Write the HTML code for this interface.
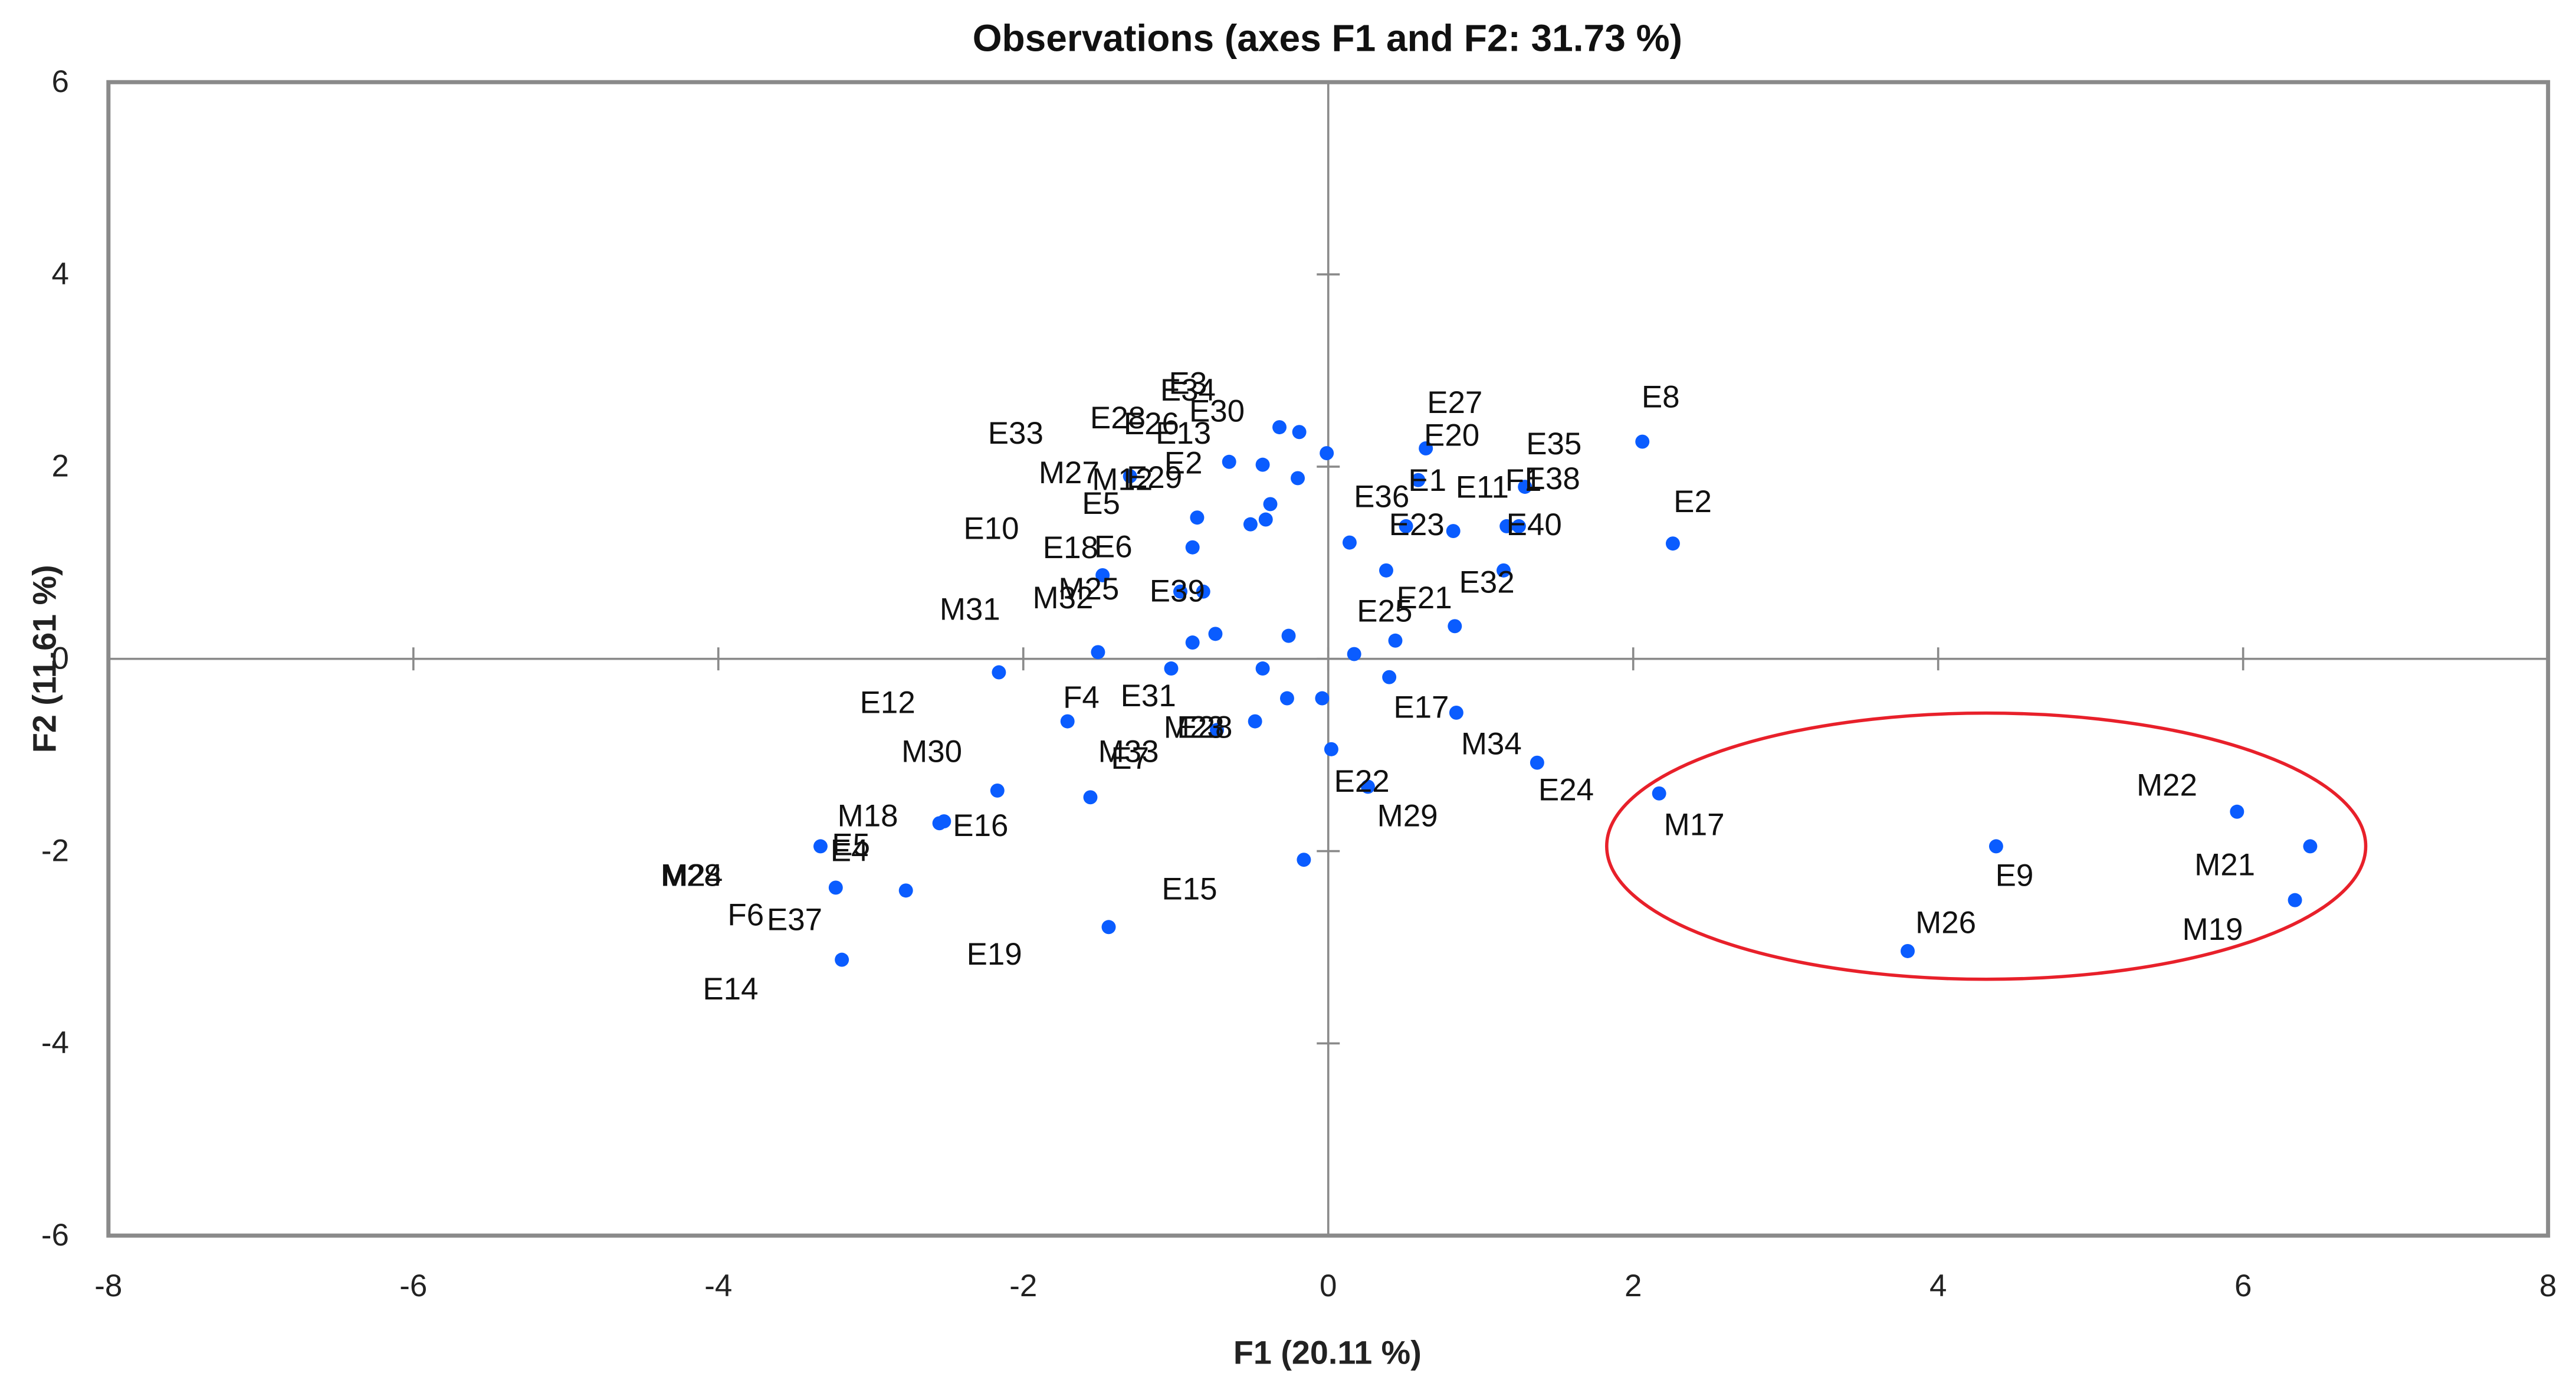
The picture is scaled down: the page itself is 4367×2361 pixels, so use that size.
<!DOCTYPE html>
<html><head><meta charset="utf-8"><style>
html,body{margin:0;padding:0;background:#fff;}
svg{display:block;font-family:"Liberation Sans",sans-serif;}
</style></head><body>
<svg id="chart" width="4367" height="2361" viewBox="0 0 1568 847.8" preserveAspectRatio="none" xmlns="http://www.w3.org/2000/svg">
<rect x="0" y="0" width="1568" height="848" fill="#fff"/>
<text x="808" y="31" text-anchor="middle" font-size="23" font-weight="bold" fill="#111">Observations (axes F1 and F2: 31.73 %)</text>
<rect x="66" y="50" width="1485" height="702" fill="none" stroke="#8a8a8a" stroke-width="2.5"/>
<g id="axes"></g>
<g id="points"></g>
<g id="labels"></g>
<ellipse cx="1209" cy="515" rx="231" ry="81" fill="none" stroke="#e8202a" stroke-width="2"/>
<text x="808" y="830" text-anchor="middle" font-size="20" font-weight="bold" fill="#222">F1 (20.11 %)</text>
<text transform="translate(34,401) rotate(-90)" text-anchor="middle" font-size="20" font-weight="bold" fill="#222">F2 (11.61 %)</text>
</svg>
<script>
const xTicks=[-8,-6,-4,-2,0,2,4,6,8];
const yTicks=[-6,-4,-2,0,2,4,6];
const xVals=[-0.32,-0.19,-0.01,-0.65,-0.43,-0.20,0.64,2.06,2.26,0.59,1.29,-0.38,-0.86,-0.41,-0.51,0.14,0.51,0.82,1.17,1.25,-0.89,-1.48,0.38,1.15,-0.97,-0.82,0.83,0.44,-0.74,-0.89,-0.26,-1.51,0.17,-2.16,-1.03,-0.43,0.40,-0.27,-0.04,0.84,-1.71,-0.48,-0.73,0.02,1.37,0.26,-2.17,-1.56,2.17,-2.52,-2.55,-3.33,-0.16,-3.23,-2.77,-1.44,-3.19,4.38,5.96,6.44,6.34,3.80,-1.30];
const yVals=[2.41,2.36,2.14,2.05,2.02,1.88,2.19,2.26,1.20,1.86,1.79,1.61,1.47,1.45,1.40,1.21,1.38,1.33,1.38,1.38,1.16,0.87,0.92,0.92,0.70,0.70,0.34,0.19,0.26,0.17,0.24,0.07,0.05,-0.14,-0.10,-0.10,-0.19,-0.41,-0.41,-0.56,-0.65,-0.65,-0.74,-0.94,-1.08,-1.33,-1.37,-1.44,-1.40,-1.69,-1.71,-1.95,-2.09,-2.38,-2.41,-2.79,-3.13,-1.95,-1.59,-1.95,-2.51,-3.04,1.90];
const labelText=["E3","E34","E30","E28","E26","E13","E33","E27","E8","E20","E35","E2","M27","M12","E29","E36","E1","E11","F1","E38","E2","E5","E10","E23","E40","E18","E6","E32","M25","M32","E39","E21","M31","E25","E12","F4","E31","E17","M23","E28","M30","M33","E7","M34","E22","E24","M17","M29","M18","E16","E5","E4","M22","M28","M24","E9","M21","E15","F6","E37","M26","M19","E19","E14"];
const labelX=[-0.92,-0.92,-0.73,-1.38,-1.16,-0.95,-2.05,0.83,2.18,0.81,1.48,-0.95,-1.70,-1.35,-1.14,0.35,0.65,1.01,1.28,1.47,2.39,-1.49,-2.21,0.58,1.35,-1.69,-1.41,1.04,-1.57,-1.74,-0.99,0.63,-2.35,0.37,-2.89,-1.62,-1.18,0.61,-0.88,-0.81,-2.60,-1.31,-1.30,1.07,0.22,1.56,2.40,0.52,-3.02,-2.28,-3.13,-3.14,5.50,-4.18,-4.17,4.50,5.88,-0.91,-3.82,-3.50,4.05,5.80,-2.19,-3.92];
const labelY=[2.86,2.79,2.57,2.50,2.44,2.34,2.34,2.66,2.72,2.32,2.23,2.03,1.93,1.86,1.88,1.68,1.85,1.78,1.85,1.87,1.63,1.61,1.35,1.39,1.39,1.15,1.16,0.79,0.72,0.63,0.70,0.63,0.51,0.49,-0.46,-0.41,-0.39,-0.51,-0.72,-0.72,-0.97,-0.97,-1.04,-0.89,-1.28,-1.37,-1.73,-1.64,-1.64,-1.74,-1.94,-2.00,-1.32,-2.26,-2.26,-2.26,-2.15,-2.40,-2.67,-2.72,-2.75,-2.82,-3.08,-3.44];

const NS='http://www.w3.org/2000/svg';
const X0=66,X1=1551,Y0=752,Y1=50;
function sx(v){return X0+(v-(-8))/(16)*(X1-X0);}
function sy(v){return Y0-(v-(-6))/(12)*(Y0-Y1);}
function mk(tag,attrs,parent){const e=document.createElementNS(NS,tag);for(const k in attrs)e.setAttribute(k,attrs[k]);parent.appendChild(e);return e;}
const axes=document.getElementById('axes');
let l=mk('line',{x1:X0,x2:X1,y1:sy(0),y2:sy(0),stroke:'#8a8a8a','stroke-width':1.3},axes);


l=mk('line',{x1:sx(0),x2:sx(0),y1:Y1,y2:Y0,stroke:'#8a8a8a','stroke-width':1.3},axes);


xTicks.forEach(v=>{
  const t=mk('line',{x1:sx(v),x2:sx(v),y1:sy(0)-7,y2:sy(0)+7,stroke:'#8a8a8a','stroke-width':1.3},axes);
  
  
  const tx=mk('text',{x:sx(v),y:789,'text-anchor':'middle','font-size':19,fill:'#222'},axes);
  tx.textContent=String(v);
  
  
});
yTicks.forEach(v=>{
  const t=mk('line',{x1:sx(0)-7,x2:sx(0)+7,y1:sy(v),y2:sy(v),stroke:'#8a8a8a','stroke-width':1.3},axes);
  
  
  const tx=mk('text',{x:42,y:sy(v)+6,'text-anchor':'end','font-size':19,fill:'#222'},axes);
  tx.textContent=String(v);
  
  
});
const pts=document.getElementById('points');
xVals.forEach((v,i)=>{
  const c=mk('circle',{cx:sx(v),cy:sy(yVals[i]),r:4.3,fill:'#0a5cff'},pts);
  
  
});
const lab=document.getElementById('labels');
labelText.forEach((s,i)=>{
  const t=mk('text',{x:sx(labelX[i]),y:sy(labelY[i])+6,'text-anchor':'middle','font-size':19,fill:'#111'},lab);
  t.textContent=s;
  
  
});
</script>
</body></html>
